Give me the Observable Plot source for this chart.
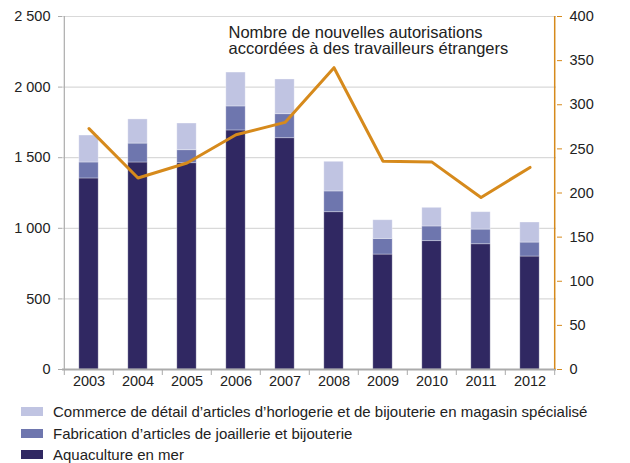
<!DOCTYPE html>
<html>
<head>
<meta charset="utf-8">
<script src="https://cdn.jsdelivr.net/npm/d3@7"></script>
<script src="https://cdn.jsdelivr.net/npm/@observablehq/plot@0.6"></script>
<style>
  body { margin: 0; background: #fff; font-family: "Liberation Sans", Arial, Helvetica, sans-serif; }
  #legend { padding-top: 11px; font-size: 15px; color: #222; }
  .row { display: flex; align-items: center; height: 21.5px; }
  .sw { width: 22px; height: 9px; margin-left: 21px; margin-right: 10px; }
</style>
</head>
<body>
<div id="chart"></div>
<div id="legend"></div>
<script>
const years = [2003, 2004, 2005, 2006, 2007, 2008, 2009, 2010, 2011, 2012];
const aquaculture = [1353, 1466, 1461, 1693, 1638, 1114, 814, 909, 887, 800];
const fabrication = [113, 134, 92, 170, 170, 147, 111, 104, 104, 99];
const commerce = [191, 171, 189, 240, 246, 210, 132, 132, 123, 142];
const autorisations = [273, 217, 234, 266, 280, 342, 236, 235, 195, 229];

const seriesNames = [
  "Aquaculture en mer",
  "Fabrication d’articles de joaillerie et bijouterie",
  "Commerce de détail d’articles d’horlogerie et de bijouterie en magasin spécialisé"
];
const seriesColors = ["#302862", "#6E76AE", "#C0C4E2"];
const leftTicks = [0, 500, 1000, 1500, 2000, 2500];
const rightTicks = [0, 50, 100, 150, 200, 250, 300, 350, 400];
const annotation = "Nombre de nouvelles autorisations\naccordées à des travailleurs étrangers";

const orange = "#D68A1C";
const grey = "#ABABAB";
const ratio = 2500 / 400;

const W = 630, H = 390, ML = 62, MR = 74, MT = 16, MB = 21;
const step = (W - ML - MR) / years.length;

const seriesValues = [aquaculture, fabrication, commerce];
const bars = [];
seriesValues.forEach((vals, s) => years.forEach((y, i) => bars.push({year: y, series: seriesNames[s], value: vals[i]})));
const lineData = years.map((y, i) => ({year: y, v: autorisations[i] * ratio}));

const fmt = d3.formatLocale({thousands: " ", grouping: [3], decimal: ","}).format(",d");

const plot = Plot.plot({
  width: W, height: H,
  marginLeft: ML, marginRight: MR, marginTop: MT, marginBottom: MB,
  style: {fontFamily: "'Liberation Sans', Arial, Helvetica, sans-serif", fontSize: "14.5px", color: "#222", background: "#fff"},
  x: {type: "band", domain: years, padding: 0, label: null},
  y: {domain: [0, 2500], label: null},
  color: {domain: seriesNames, range: seriesColors},
  marks: [
    Plot.ruleY(leftTicks.filter(d => d > 0), {stroke: "#D9D9D9", strokeWidth: 1.2}),
    Plot.barY(bars, Plot.stackY({x: "year", y: "value", fill: "series", order: null, insetLeft: step * 0.3, insetRight: step * 0.3, stroke: "#fff", strokeOpacity: 0.4, strokeWidth: 0.8})),
    Plot.ruleY([0], {stroke: grey, strokeWidth: 2}),
    Plot.ruleX(years, {x: d => d, dx: -step / 2, y1: 0, y2: 0, insetBottom: -6, stroke: grey, strokeWidth: 1}),
    Plot.ruleX([years[0]], {x: d => d, dx: -step / 2, y1: 0, y2: 2500, stroke: grey, strokeWidth: 1.2}),
    Plot.ruleX([years[years.length - 1]], {x: d => d, dx: step / 2, y1: 0, y2: 0, insetBottom: -6, stroke: grey}),
    Plot.ruleX([years[years.length - 1]], {x: d => d, dx: step / 2, y1: 0, y2: 2500, stroke: orange, strokeWidth: 1.5}),
    Plot.axisY({ticks: leftTicks, tickFormat: fmt, tickSize: 4, tickPadding: 8, stroke: grey, fill: "#222", label: null}),
    Plot.axisY({anchor: "right", ticks: rightTicks.map(d => d * ratio), tickFormat: d => String(Math.round(d / ratio)), tickSize: 5, tickPadding: 8, stroke: orange, fill: "#222", label: null}),
    Plot.axisX({tickSize: 0, tickPadding: 6, tickFormat: d => String(d), fill: "#222", label: null}),
    Plot.line(lineData, {x: "year", y: "v", stroke: orange, strokeWidth: 3}),
    Plot.text([annotation], {frameAnchor: "top-left", dx: 166, dy: 9.5, lineAnchor: "top", textAnchor: "start", fontSize: 16.5, lineHeight: 1.0, fill: "#222", text: d => d})
  ]
});
document.getElementById("chart").appendChild(plot);

const legend = document.getElementById("legend");
[2, 1, 0].forEach(i => {
  const row = document.createElement("div");
  row.className = "row";
  const sw = document.createElement("span");
  sw.className = "sw";
  sw.style.background = seriesColors[i];
  const t = document.createElement("span");
  t.textContent = seriesNames[i];
  row.appendChild(sw); row.appendChild(t);
  legend.appendChild(row);
});
</script>
</body>
</html>
